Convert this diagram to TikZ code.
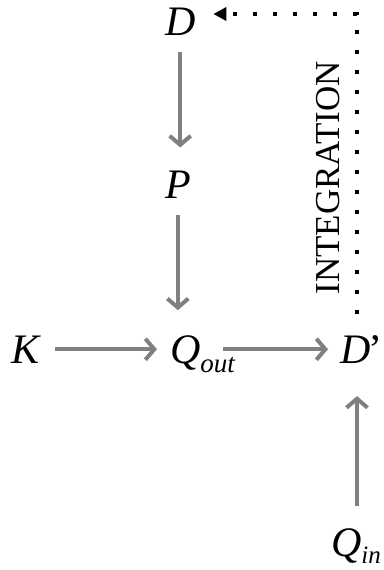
\documentclass[tikz,border=0pt]{standalone}
\usepackage{fontspec}
\setmainfont{Liberation Serif}
\usetikzlibrary{arrows.meta,calc}
\newcommand\subsym[3]{\raisebox{-#3pt}{\fontsize{#1}{30}\selectfont\itshape #2}}
\begin{document}
\begin{tikzpicture}[x=1pt,y=-1pt,
  sym/.style={inner sep=0pt,outer sep=0pt,font=\fontsize{42}{44}\selectfont\itshape},
  arr/.style={draw=gray,line width=4pt,-{Straight Barb[length=9pt,width=21pt]}},
  dots/.style={draw=black,line width=4pt,dash pattern=on 4pt off 16pt,-{Triangle[length=13pt,width=13pt]}}]
\useasboundingbox (0,0) rectangle (383,570);
\node[sym,anchor=base west] (D) at (165,35) {D};
\node[sym,anchor=base west] (P) at (165,198) {P};
\node[sym,anchor=base west] (K) at (12,363) {K};
\node[sym,anchor=base west] (Q) at (170,363) {Q\subsym{27}{out}{9}};
\node[sym,anchor=base west] (Dp) at (340,363) {D\kern-2pt\upshape\char"2019};
\node[sym,anchor=base west] (Qin) at (331,556) {Q\subsym{25}{in}{7}};
\node[inner sep=0pt,rotate=90,font=\fontsize{35}{38}\selectfont] (int) at (328,178) {INTEGRATION};
\coordinate (corner) at (357,14);
\draw[arr,shorten <=17pt,shorten >=23pt] (D.south) -- (D.south |- P.north);
\draw[arr,shorten <=17pt,shorten >=25pt] (P.south) -- (P.south |- Q.north);
\draw[arr,shorten <=15pt,shorten >=13pt] (K.east) -- (K.east -| Q.west);
\draw[arr,shorten >=12pt] ($(Q.west |- K.east)+(53,0)$) -- (K.east -| Dp.west);
\draw[arr,shorten <=22pt,shorten >=33pt] (Qin.north -| corner) -- (corner |- Dp.south);
\draw[dots,shorten >=18pt] (corner |- Dp.north) ++(0,-21) -- (corner) -- (D.east |- corner);
\end{tikzpicture}
\end{document}
